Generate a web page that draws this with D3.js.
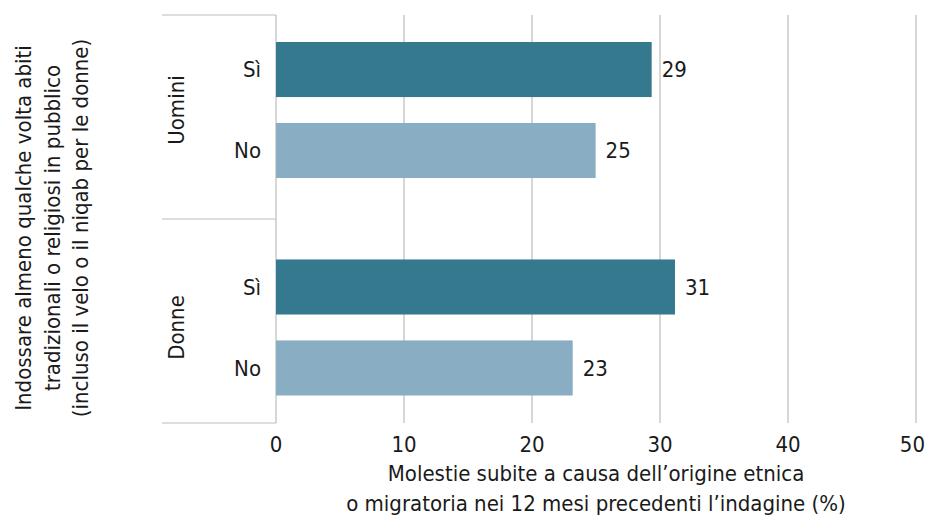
<!DOCTYPE html>
<html>
<head>
<meta charset="utf-8">
<script src="https://cdn.jsdelivr.net/npm/d3@7"></script>
<style>
  body { margin: 0; background: #fff; }
  text { font-family: "Liberation Sans Narrow", "DejaVu Sans Condensed", sans-serif; fill: #1a1a1a; }
</style>
</head>
<body>
<div id="chart"></div>
<script>
// == Data ====================================================================

const groups = ['Uomini', 'Donne']
const answers = ['Sì', 'No']
const values = {
  Uomini: [29.35, 24.97],
  Donne: [31.17, 23.18]
}
const valueLabels = {
  Uomini: ['29', '25'],
  Donne: ['31', '23']
}
const xTicks = [0, 10, 20, 30, 40, 50]
const xTitle = ['Molestie subite a causa dell’origine etnica',
  'o migratoria nei 12 mesi precedenti l’indagine (%)']
const yTitle = ['Indossare almeno qualche volta abiti',
  'tradizionali o religiosi in pubblico',
  '(incluso il velo o il niqab per le donne)']
const colors = { 'Sì': '#35798f', 'No': '#89adc3' }

// == Layout ==================================================================

const width = 927
const height = 521
const plotLeft = 276
const plotRight = 916
const plotTop = 15
const plotBottom = 423
const groupColLeft = 162
const gridColor = '#bdbdbd'
const fs = 22

const svg = d3.select('#chart').append('svg')
  .attr('width', width)
  .attr('height', height)

const x = d3.scaleLinear().domain([0, 50]).range([plotLeft, plotRight])

// rows laid out as a band scale, with extra space between the two groups
const rows = []
groups.forEach(g => answers.forEach((a, i) => rows.push({ group: g, answer: a, value: values[g][i], label: valueLabels[g][i] })))
const groupGap = 55.5
const y = d3.scaleBand()
  .domain(rows.map(r => r.group + '|' + r.answer))
  .range([42, 340])
  .paddingInner(0.32)
  .paddingOuter(0)
const rowY = r => y(r.group + '|' + r.answer) + groups.indexOf(r.group) * groupGap

// group separators: boundaries of each group
const sepY = d3.scaleBand().domain(groups).range([plotTop, plotBottom])

// == Grid ====================================================================

svg.append('g')
  .selectAll('line')
  .data(xTicks.filter(d => d > 0))
  .join('line')
  .attr('x1', d => x(d)).attr('x2', d => x(d))
  .attr('y1', plotTop).attr('y2', plotBottom)
  .attr('stroke', gridColor)
  .attr('stroke-width', 1.2)

// left frame of the category column
svg.append('line')
  .attr('x1', x(0)).attr('x2', x(0))
  .attr('y1', plotTop).attr('y2', plotBottom)
  .attr('stroke', gridColor).attr('stroke-width', 1.2)

const seps = [plotTop].concat(groups.map(g => sepY(g) + sepY.bandwidth()))
svg.append('g')
  .selectAll('line')
  .data(seps)
  .join('line')
  .attr('x1', groupColLeft).attr('x2', x(0))
  .attr('y1', d => d).attr('y2', d => d)
  .attr('stroke', gridColor).attr('stroke-width', 1.2)

// == Bars ====================================================================

svg.append('g')
  .selectAll('rect')
  .data(rows)
  .join('rect')
  .attr('x', x(0))
  .attr('y', d => rowY(d))
  .attr('width', d => x(d.value) - x(0))
  .attr('height', y.bandwidth())
  .attr('fill', d => colors[d.answer])

svg.append('g')
  .selectAll('text')
  .data(rows)
  .join('text')
  .attr('x', d => x(d.value) + 10)
  .attr('y', d => rowY(d) + y.bandwidth() / 2)
  .attr('dy', '0.35em')
  .attr('font-size', fs)
  .text(d => d.label)

// answer labels (Sì / No)
svg.append('g')
  .selectAll('text')
  .data(rows)
  .join('text')
  .attr('x', 261)
  .attr('y', d => rowY(d) + y.bandwidth() / 2)
  .attr('dy', '0.35em')
  .attr('text-anchor', 'end')
  .attr('font-size', fs)
  .text(d => d.answer)

// group labels, rotated
svg.append('g')
  .selectAll('text')
  .data(groups)
  .join('text')
  .attr('transform', g => {
    const rs = rows.filter(r => r.group === g)
    const cy = (rowY(rs[0]) + rowY(rs[rs.length - 1]) + y.bandwidth()) / 2
    return 'translate(184,' + cy + ') rotate(-90)'
  })
  .attr('text-anchor', 'middle')
  .attr('font-size', fs)
  .text(g => g)

// == Axes ====================================================================

// last label would spill past the window edge, so it is right-aligned
const lastTick = xTicks[xTicks.length - 1]
svg.append('g')
  .selectAll('text')
  .data(xTicks)
  .join('text')
  .attr('x', d => d === lastTick ? width - 2 : x(d))
  .attr('y', 452)
  .attr('text-anchor', d => d === lastTick ? 'end' : 'middle')
  .attr('font-size', fs)
  .text(d => d)

svg.append('g')
  .selectAll('text')
  .data(xTitle)
  .join('text')
  .attr('x', 596)
  .attr('y', (d, i) => 481 + i * 30)
  .attr('text-anchor', 'middle')
  .attr('font-size', fs)
  .text(d => d)

svg.append('g')
  .selectAll('text')
  .data(yTitle)
  .join('text')
  .attr('transform', (d, i) => 'translate(' + (31 + i * 28.5) + ',228) rotate(-90)')
  .attr('text-anchor', 'middle')
  .attr('font-size', fs)
  .text(d => d)
</script>
</body>
</html>
